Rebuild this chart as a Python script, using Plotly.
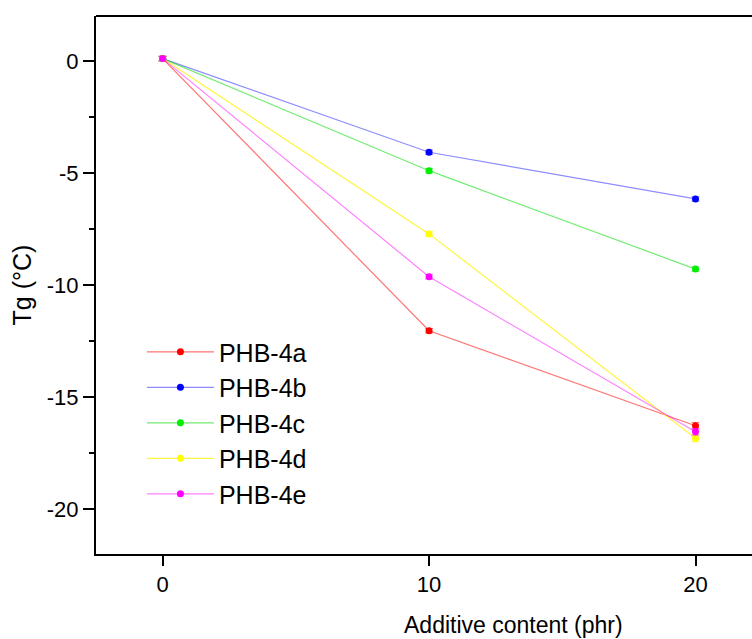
import plotly.graph_objects as go

additive = [0, 10, 20]
series_names = ["PHB-4a", "PHB-4b", "PHB-4c", "PHB-4d", "PHB-4e"]
tg_4a = [0.1, -12.04, -16.28]
tg_4b = [0.1, -4.08, -6.16]
tg_4c = [0.1, -4.9, -9.29]
tg_4d = [0.1, -7.72, -16.84]
tg_4e = [0.1, -9.63, -16.55]
err_4a = [0.1, 0.1, 0.15]
err_4b = [0.1, 0.1, 0.1]
err_4c = [0.1, 0.1, 0.1]
err_4d = [0.1, 0.1, 0.15]
err_4e = [0.1, 0.1, 0.15]
y_tickvals = [0, -5, -10, -15, -20]
y_ticktext = ["0", "-5", "-10", "-15", "-20"]
x_tickvals = [0, 10, 20]
x_ticktext = ["0", "10", "20"]

series = [tg_4a, tg_4b, tg_4c, tg_4d, tg_4e]
errs = [err_4a, err_4b, err_4c, err_4d, err_4e]
marker_colors = ["#ff0000", "#0000ff", "#00ee00", "#ffff00", "#ff00ff"]
line_colors = ["rgba(255,0,0,0.55)", "rgba(0,0,255,0.45)", "rgba(0,220,0,0.55)",
               "rgba(255,240,0,0.75)", "rgba(255,0,255,0.5)"]

fig = go.Figure()
for name, ys, es, mc, lc in zip(series_names, series, errs, marker_colors, line_colors):
    fig.add_trace(go.Scatter(
        x=additive, y=ys, name=name, mode="lines+markers",
        line=dict(color=lc, width=1.2),
        marker=dict(color=mc, size=7),
        error_y=dict(type="data", array=es, color=lc, thickness=1, width=4),
    ))

font_family = "Liberation Sans, Arial, sans-serif"
fig.update_layout(
    width=752, height=639,
    margin=dict(l=96, r=0, t=16, b=85),
    paper_bgcolor="white", plot_bgcolor="white",
    font=dict(family=font_family, color="black"),
    showlegend=True,
    legend=dict(
        x=0.07, y=0.418, xanchor="left", yanchor="top",
        font=dict(size=25, family=font_family),
        bgcolor="rgba(0,0,0,0)", itemwidth=67, tracegroupgap=0,
    ),
    xaxis=dict(
        range=[-2.5, 22.12], showgrid=False, zeroline=False,
        showline=True, linecolor="black", linewidth=2,
        ticks="outside", ticklen=10, tickwidth=2, tickcolor="black",
        tickvals=x_tickvals, ticktext=x_ticktext,
        tickfont=dict(size=22, family=font_family),
    ),
    yaxis=dict(
        range=[-22, 2], showgrid=False, zeroline=False,
        showline=True, linecolor="black", linewidth=2,
        ticks="outside", ticklen=11, tickwidth=2, tickcolor="black",
        tickvals=y_tickvals, ticktext=y_ticktext,
        tickfont=dict(size=22, family=font_family),
        minor=dict(ticks="outside", ticklen=5, tickwidth=2, tickcolor="black", dtick=2.5, showgrid=False),
        title=dict(text="Tg (°C)", font=dict(size=25, family=font_family), standoff=8),
    ),
)
fig.add_shape(type="line", xref="paper", yref="paper", x0=0, x1=1, y0=1, y1=1,
              line=dict(color="black", width=2))
fig.add_annotation(text="Additive content (phr)", xref="paper", yref="paper",
                   x=0.637, y=-0.132, xanchor="center", yanchor="middle", showarrow=False,
                   font=dict(size=23, family=font_family))
fig.write_html("out.html")
